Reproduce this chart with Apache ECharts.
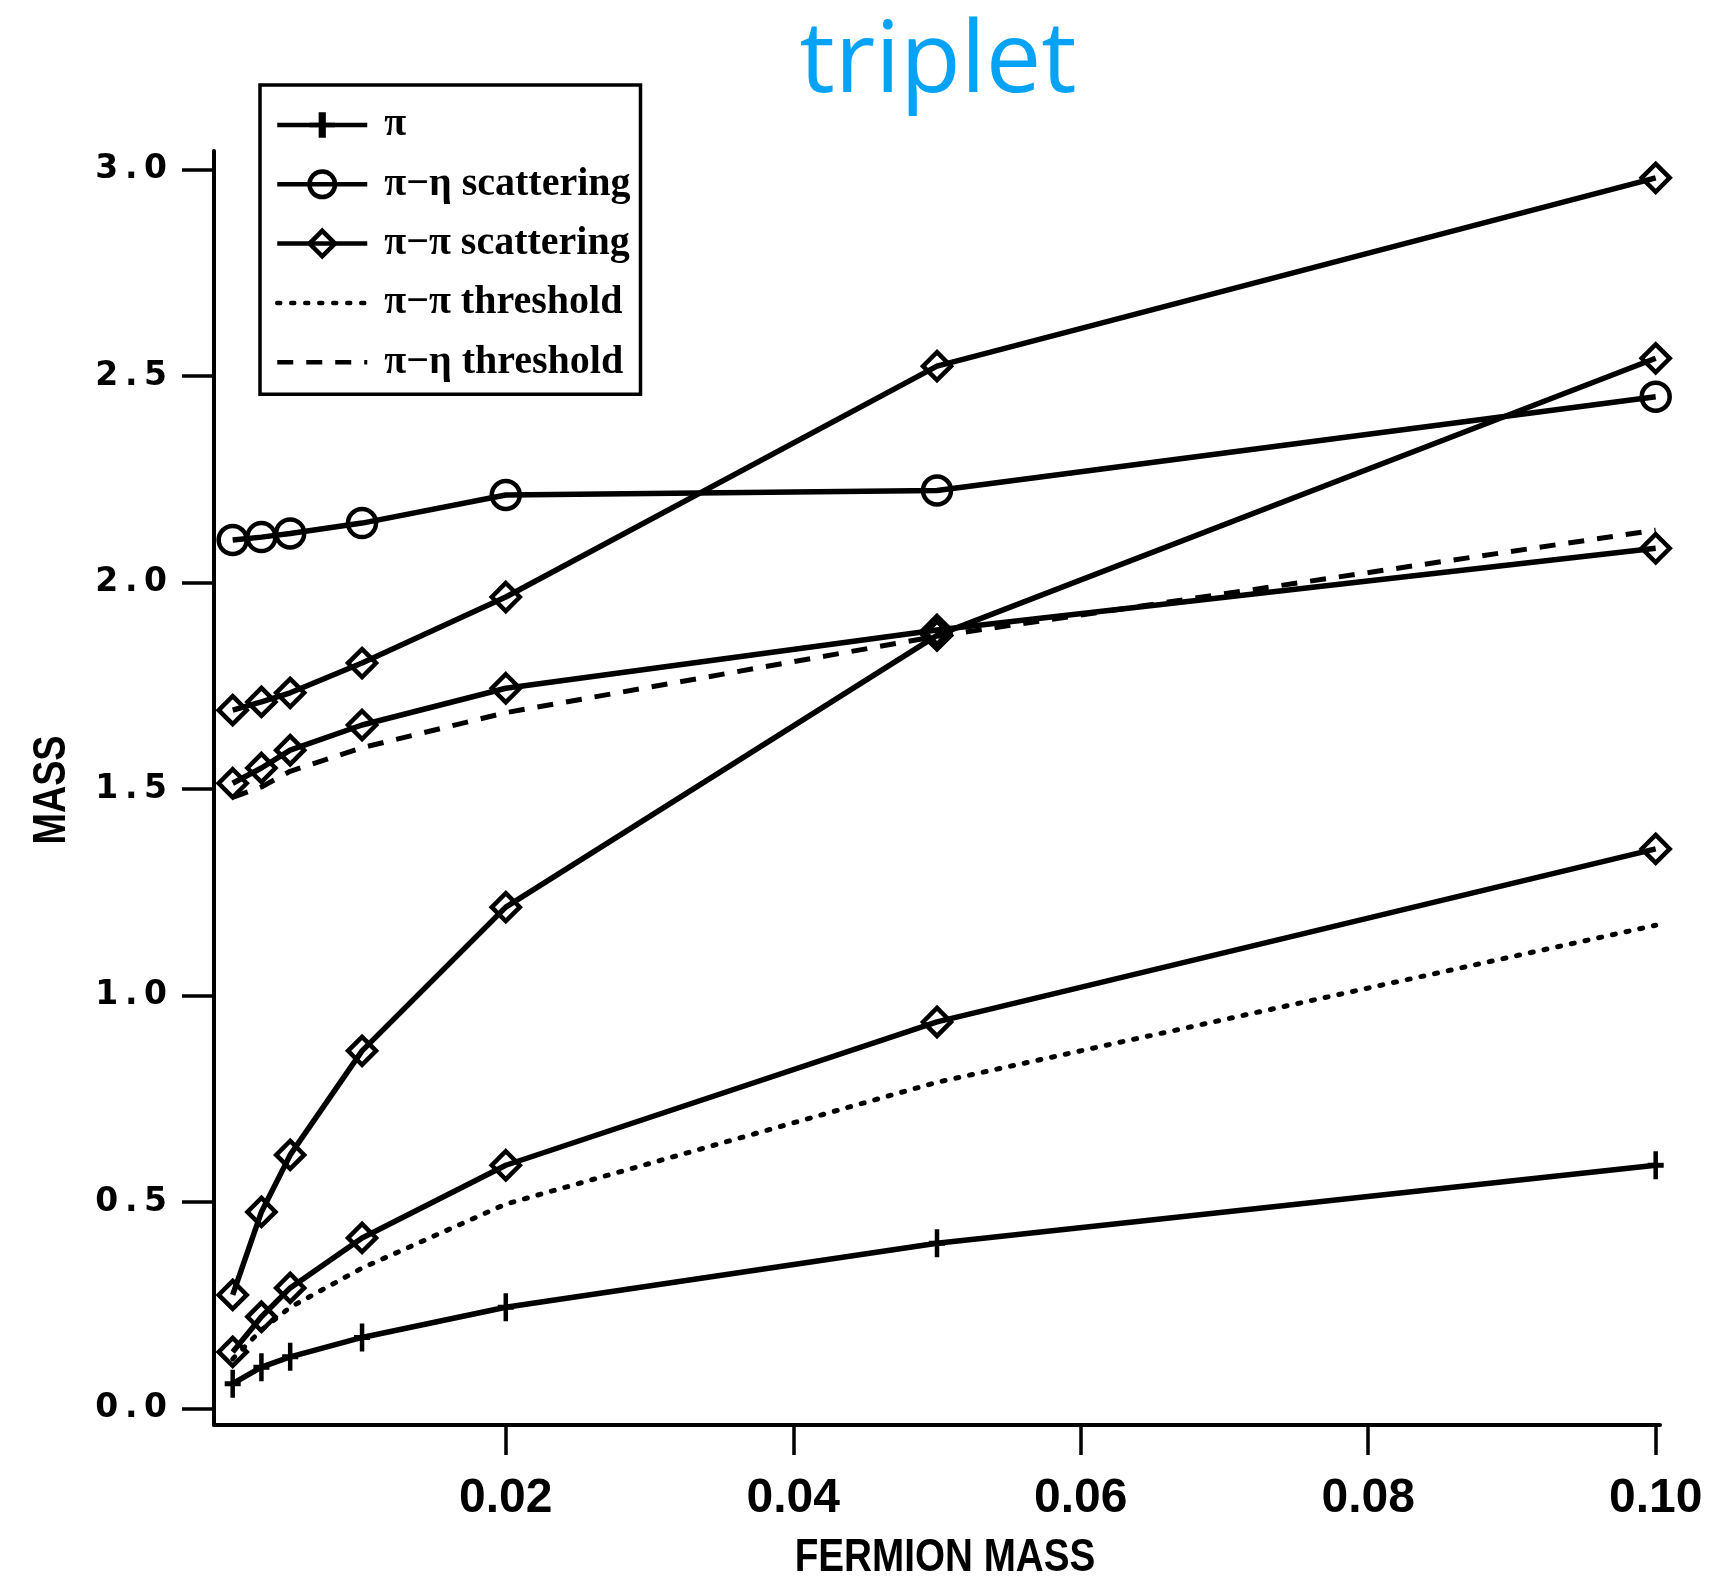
<!DOCTYPE html>
<html>
<head>
<meta charset="utf-8">
<script src="https://cdn.jsdelivr.net/npm/echarts@6/dist/echarts.min.js"></script>
<style>
  html, body { margin: 0; padding: 0; background: #fff; }
  #chart { width: 1712px; height: 1576px; }
</style>
</head>
<body>
<div id="chart"></div>
<script>
// Fermion masses at which the meson masses were computed
const fermionMass = [0.001, 0.003, 0.005, 0.01, 0.02, 0.05, 0.1];

// Measured masses
const pion            = [0.06, 0.10, 0.125, 0.172, 0.245, 0.40, 0.589];
const piEtaScattering = [2.103, 2.110, 2.119, 2.144, 2.212, 2.223, 2.45];
const piPiScatteringA = [1.691, 1.711, 1.733, 1.805, 1.965, 2.524, 2.98];
const piPiScatteringB = [0.275, 0.476, 0.614, 0.866, 1.214, 1.872, 2.543];
const piPiScatteringC = [1.514, 1.551, 1.594, 1.655, 1.744, 1.885, 2.083];
const piPiScatteringD = [0.137, 0.222, 0.292, 0.413, 0.589, 0.936, 1.355];

// Two-particle thresholds
const piPiThreshold  = [0.12, 0.19, 0.245, 0.34, 0.495, 0.79, 1.17];
const piEtaThreshold = [1.48, 1.505, 1.543, 1.60, 1.685, 1.87, 2.127];

// Axis ticks
const yTicks = [0, 0.5, 1.0, 1.5, 2.0, 2.5, 3.0];
const xTicks = [0.02, 0.04, 0.06, 0.08, 0.10];

const pairs = (xs, ys) => xs.map((x, i) => [x, ys[i]]);

const INK = '#000';
// Solid plus sign (16 x 28 units) used as the pion marker
const PLUS = 'path://M5.75,0H10.25V11.5H16V16.5H10.25V28H5.75V16.5H0V11.5H5.75Z';
const SANS = '"Liberation Sans", Arial, sans-serif';

function markedLine(name, values, symbol, size) {
  return {
    type: 'line',
    name: name,
    data: pairs(fermionMass, values),
    symbol: symbol,
    symbolSize: size,
    lineStyle: { color: INK, width: 5.5 },
    itemStyle: { color: 'transparent', borderColor: INK, borderWidth: 4.5 },
    emphasis: { disabled: true },
    z: 3
  };
}

function plainLine(name, values, dash, cap) {
  return {
    type: 'line',
    name: name,
    data: pairs(fermionMass, values),
    symbol: 'circle',
    showSymbol: false,
    lineStyle: { color: INK, width: 5, type: dash, cap: cap },
    itemStyle: { color: 'transparent', borderWidth: 0 },
    emphasis: { disabled: true },
    z: 2
  };
}

const pionSeries = markedLine('π', pion, PLUS, [16, 28]);
pionSeries.itemStyle = { color: INK, borderWidth: 0 };

const chart = echarts.init(document.getElementById('chart'), null, { renderer: 'canvas' });
chart.setOption({
  animation: false,
  backgroundColor: '#fff',
  title: {
    text: 'triplet',
    left: 933,
    top: 9,
    textAlign: 'center',
    textStyle: {
      fontFamily: '"Open Sans", sans-serif',
      fontWeight: 'normal',
      fontSize: 99,
      color: '#05a2f5'
    }
  },
  legend: {
    orient: 'vertical',
    left: 260,
    top: 85,
    padding: [20, 10, 12, 15],
    itemWidth: 90,
    itemHeight: 32,
    itemGap: 19.3,
    backgroundColor: '#fff',
    borderColor: INK,
    borderWidth: 3.5,
    lineStyle: { width: 4.5 },
    itemStyle: { borderWidth: 'inherit' },
    data: ['π', 'π−η scattering', 'π−π scattering', 'π−π threshold', 'π−η threshold'],
    textStyle: {
      fontFamily: '"Liberation Serif", "DejaVu Serif", serif',
      fontWeight: 'bold',
      fontSize: 40,
      lineHeight: 32,
      color: INK,
      padding: [0, 0, 0, 12]
    }
  },
  grid: { left: 214, right: 52, top: 151, bottom: 151, containLabel: false },
  xAxis: {
    type: 'value',
    min: -0.0003,
    max: 0.1003,
    axisLine: { show: true, onZero: false, lineStyle: { color: INK, width: 4 } },
    axisTick: { show: true, inside: false, length: 30, customValues: xTicks, lineStyle: { color: INK, width: 3.5 } },
    axisLabel: {
      customValues: xTicks,
      margin: 50,
      formatter: v => v.toFixed(2),
      fontFamily: SANS,
      fontWeight: 'bold',
      fontSize: 48,
      color: INK
    },
    splitLine: { show: false }
  },
  yAxis: {
    type: 'value',
    min: -0.04,
    max: 3.045,
    axisLine: { show: true, onZero: false, lineStyle: { color: INK, width: 4 } },
    axisTick: { show: true, inside: false, length: 32, customValues: yTicks, lineStyle: { color: INK, width: 3.5 } },
    axisLabel: {
      customValues: yTicks,
      margin: 47,
      formatter: v => v.toFixed(1).split('').join('\u2009'),
      fontFamily: '"DejaVu Sans", sans-serif',
      fontWeight: 'bold',
      fontSize: 33,
      color: INK
    },
    splitLine: { show: false }
  },
  // Axis titles, set in a condensed bold face
  graphic: [
    {
      type: 'text',
      x: 945,
      y: 1558,
      scaleX: 0.84,
      style: {
        text: 'FERMION MASS',
        fontFamily: SANS,
        fontWeight: 'bold',
        fontSize: 46,
        fill: INK,
        align: 'center',
        verticalAlign: 'middle'
      }
    },
    {
      type: 'text',
      x: 52,
      y: 790,
      rotation: Math.PI / 2,
      scaleX: 0.82,
      style: {
        text: 'MASS',
        fontFamily: SANS,
        fontWeight: 'bold',
        fontSize: 46,
        fill: INK,
        align: 'center',
        verticalAlign: 'middle'
      }
    }
  ],
  series: [
    pionSeries,
    markedLine('π−η scattering', piEtaScattering, 'circle', 28),
    markedLine('π−π scattering', piPiScatteringA, 'diamond', 28),
    markedLine('π−π scattering', piPiScatteringB, 'diamond', 28),
    markedLine('π−π scattering', piPiScatteringC, 'diamond', 28),
    markedLine('π−π scattering', piPiScatteringD, 'diamond', 28),
    plainLine('π−π threshold', piPiThreshold, [3, 11], 'round'),
    plainLine('π−η threshold', piEtaThreshold, [16, 13], 'butt')
  ]
});
</script>
</body>
</html>
